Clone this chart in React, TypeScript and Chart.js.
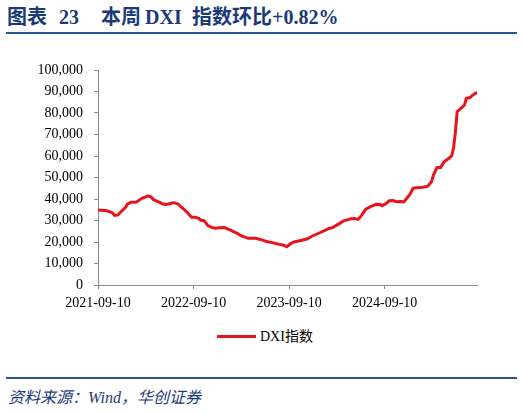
import React, { useEffect, useRef } from "react";
import { Chart, registerables } from "chart.js";

Chart.register(...registerables);

// week offsets from 2021-09-10
const weeks = [
  0, 5, 8, 9, 11, 12, 15, 16, 18, 21, 24, 26, 27, 29, 30, 32, 34, 35, 37, 39,
  41, 42, 44, 45, 47, 49, 51, 53, 55, 56, 58, 60, 62, 64, 66, 69, 72, 76, 78, 82,
  86, 88, 90, 92, 95, 97, 99, 101, 103, 105, 107, 110, 114, 117, 121, 125, 126, 128, 131, 134,
  136, 138, 140, 142, 144, 146, 149, 152, 154, 155, 157, 159, 161, 163, 165, 167, 168, 170, 172, 174,
  176, 178, 180, 182, 183, 185, 187, 189, 190, 191, 193, 194, 195, 196, 198, 200, 201, 203, 204, 206,
  207,
];

const dxiValues = [
  34900, 34500, 33500, 32400, 32600, 33600, 36100, 37600, 38500, 38600, 40300, 41000, 41400, 41000, 39900, 39000, 38300, 37800, 37500, 37800,
  38300, 38200, 37500, 36500, 35200, 33500, 31500, 31500, 31000, 30200, 29800, 27600, 26800, 26400, 26600, 26700, 25600, 24000, 22900, 21700,
  21700, 21300, 20900, 20200, 19700, 19300, 18900, 18600, 17800, 19200, 20000, 20600, 21400, 22800, 24300, 25900, 26300, 26700, 28200, 29800,
  30300, 30800, 30900, 30500, 32600, 35200, 36600, 37500, 37400, 36900, 37800, 39200, 39300, 38700, 38800, 38700, 39800, 41900, 45000, 45200,
  45300, 45600, 46000, 48000, 51000, 54700, 54700, 57400, 58000, 58600, 60000, 63600, 70600, 80600, 82200, 83700, 86800, 87200, 88000, 89200,
  89400,
];

const xTickWeeks = [0, 52.14, 104.29, 156.43];
const xTickLabels = ["2021-09-10", "2022-09-10", "2023-09-10", "2024-09-10"];
const seriesName = "DXI指数";

const NAVY = "#1b3b78";
const RULE = "#2b5597";
const RED = "#e8141c";
const AXIS = "#8a8a8a";
const SERIF = '"Liberation Serif", "Times New Roman", "Noto Sans CJK SC", serif';

function DxiChart() {
  const ref = useRef<HTMLCanvasElement | null>(null);
  useEffect(() => {
    if (!ref.current) return;
    const chart = new Chart(ref.current, {
      type: "line",
      data: {
        datasets: [
          {
            label: seriesName,
            data: weeks.map((w, i) => ({ x: w, y: dxiValues[i] })),
            borderColor: RED,
            backgroundColor: RED,
            borderWidth: 3,
            pointRadius: 0,
            tension: 0,
          },
        ],
      },
      options: {
        animation: false,
        responsive: false,
        maintainAspectRatio: false,
        layout: { padding: { left: 0, right: 46.7, top: 20, bottom: 0 } },
        plugins: { legend: { display: false }, tooltip: { enabled: false } },
        scales: {
          x: {
            type: "linear",
            min: 0,
            max: weeks[weeks.length - 1],
            afterBuildTicks: (scale: any) => {
              scale.ticks = xTickWeeks.map((v) => ({ value: v }));
            },
            afterFit: (scale: any) => {
              scale.height = 35;
            },
            grid: { drawOnChartArea: false, drawTicks: true, tickLength: 4, color: AXIS },
            border: { display: true, color: AXIS, width: 1 },
            ticks: {
              autoSkip: false,
              maxRotation: 0,
              padding: 6,
              color: "#000",
              font: { family: SERIF, size: 14 },
              callback: (_v: any, i: number) => xTickLabels[i],
            },
          },
          y: {
            min: 0,
            max: 100000,
            afterFit: (scale: any) => {
              scale.width = 98;
            },
            grid: { drawOnChartArea: false, drawTicks: true, tickLength: 4, color: AXIS },
            border: { display: true, color: AXIS, width: 1 },
            ticks: {
              stepSize: 10000,
              padding: 11,
              color: "#000",
              font: { family: SERIF, size: 14 },
              callback: (v: any) => Number(v).toLocaleString("en-US"),
            },
          },
        },
      },
    });
    return () => chart.destroy();
  }, []);
  return (
    <canvas
      ref={ref}
      width={524}
      height={270}
      style={{ position: "absolute", left: 0, top: 50, width: 524, height: 270 }}
    />
  );
}

export default function App() {
  const titleStyle: React.CSSProperties = {
    position: "absolute",
    top: 6,
    lineHeight: "22px",
    fontSize: 20,
    fontWeight: "bold",
    color: NAVY,
    fontFamily: SERIF,
    whiteSpace: "nowrap",
  };
  return (
    <div style={{ position: "absolute", left: 0, top: 0, width: 524, height: 413, background: "#fff", overflow: "hidden" }}>
      <span style={{ ...titleStyle, left: 7 }}>图表</span>
      <span style={{ ...titleStyle, left: 59 }}>23</span>
      <span style={{ ...titleStyle, left: 101 }}>本周</span>
      <span style={{ ...titleStyle, left: 145 }}>DXI</span>
      <span style={{ ...titleStyle, left: 192 }}>指数环比</span>
      <span style={{ ...titleStyle, left: 272 }}>+0.82%</span>
      <div style={{ position: "absolute", left: 6, top: 32, width: 511, height: 2, background: RULE }} />
      <DxiChart />
      <div style={{ position: "absolute", left: 217, top: 335, width: 39, height: 3, background: RED }} />
      <span
        style={{
          position: "absolute",
          left: 260,
          top: 327,
          lineHeight: "20px",
          fontSize: 14,
          color: "#000",
          fontFamily: SERIF,
          whiteSpace: "nowrap",
        }}
      >
        {seriesName}
      </span>
      <div style={{ position: "absolute", left: 6, top: 377, width: 511, height: 2, background: RULE }} />
      <span
        style={{
          position: "absolute",
          left: 8,
          top: 388,
          lineHeight: "20px",
          fontSize: 16,
          fontStyle: "italic",
          color: NAVY,
          fontFamily: SERIF,
          whiteSpace: "nowrap",
        }}
      >
        资料来源：Wind，华创证券
      </span>
    </div>
  );
}
